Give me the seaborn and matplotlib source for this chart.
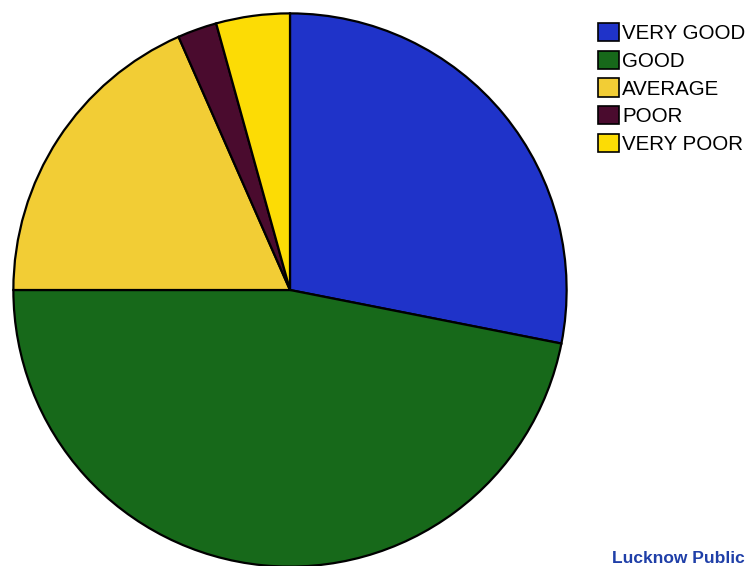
import matplotlib
matplotlib.use("Agg")
import matplotlib.pyplot as plt
import seaborn as sns
from matplotlib.patches import Patch

# Datos (porcentajes aproximados)
categorias = ['VERY GOOD', 'GOOD', 'AVERAGE', 'POOR', 'VERY POOR']
valores = [28.1, 46.9, 18.4, 2.3, 4.3]
colores = ['#1f33c9', '#17691a', '#f2cd35', '#4a0b2e', '#fcdc05']

sns.set_style("white")
plt.rcParams['font.family'] = ['Liberation Sans', 'DejaVu Sans']

fig = plt.figure(figsize=(7.55, 5.66), dpi=100)
fig.patch.set_facecolor('white')

# Ejes del pastel: centro (290, 290) px, radio 278 px
cx, cy, r = 290, 290, 278
ax = fig.add_axes([(cx - r) / 755, (566 - cy - r) / 566, 2 * r / 755, 2 * r / 566])
ax.pie(valores, colors=colores, startangle=90, counterclock=False, radius=1,
       wedgeprops=dict(edgecolor='black', linewidth=1.6))
ax.set_xlim(-1.005, 1.005)
ax.set_ylim(-1.005, 1.005)
ax.set_aspect('equal')
ax.axis('off')

# Leyenda
handles = [Patch(facecolor=c, edgecolor='black', linewidth=1.2) for c in colores]
fig.legend(handles, categorias, loc='upper left', bbox_to_anchor=(598 / 755, 1 - 23 / 566),
           frameon=False, fontsize=14.8, handlelength=1.0, handleheight=1.0,
           handletextpad=0.18, labelspacing=0.36, borderaxespad=0, borderpad=0,
           labelcolor='black')

# Texto inferior
fig.text(612 / 755, 3 / 566, 'Lucknow Public', color='#1f3fa8', fontsize=12.5,
         fontweight='bold', va='baseline', ha='left')

fig.savefig('out.png', dpi=100)
